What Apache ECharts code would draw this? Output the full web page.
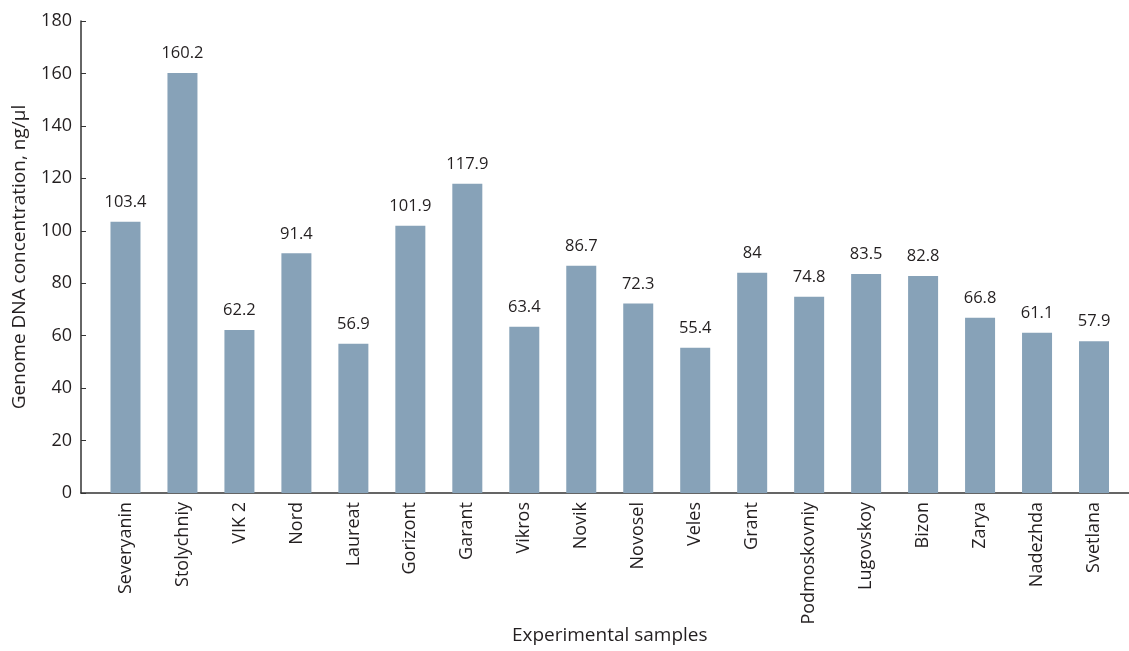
<!DOCTYPE html>
<html>
<head>
<meta charset="utf-8">
<script src="https://cdn.jsdelivr.net/npm/echarts@6/dist/echarts.min.js"></script>
<style>html,body{margin:0;padding:0;background:#fff;}#c{width:1129px;height:651px;}</style>
</head>
<body>
<div id="c"></div>
<script>
const categories = ["Severyanin","Stolychniy","VIK 2","Nord","Laureat","Gorizont","Garant","Vikros","Novik","Novosel","Veles","Grant","Podmoskovniy","Lugovskoy","Bizon","Zarya","Nadezhda","Svetlana"];
const concentration = [103.4,160.2,62.2,91.4,56.9,101.9,117.9,63.4,86.7,72.3,55.4,84,74.8,83.5,82.8,66.8,61.1,57.9];
const yTicks = {min:0, max:180, interval:20};

const FONT = "Open Sans";
const TXT = "#231f20";
const chart = echarts.init(document.getElementById('c'));
chart.setOption({
  animation:false,
  textStyle:{fontFamily:FONT},
  grid:[
    {left:97, right:6.5, top:21, bottom:158, containLabel:false, outerBoundsMode:'none'},
    {left:81, right:0, top:21, bottom:158, containLabel:false, outerBoundsMode:'none'}
  ],
  xAxis:[
    {type:'category', gridIndex:0, data:categories,
     axisLine:{show:false}, axisTick:{show:false},
     axisLabel:{rotate:90, margin:9, fontSize:18, color:TXT, fontFamily:FONT, interval:0},
     name:'Experimental samples', nameLocation:'middle', nameGap:133, nameMoveOverlap:false,
     nameTextStyle:{fontSize:19, color:TXT, fontFamily:FONT}},
    {type:'value', gridIndex:1, min:0, max:1,
     axisLine:{show:true, lineStyle:{color:'#333', width:1.5}},
     axisTick:{show:false}, axisLabel:{show:false}, splitLine:{show:false}}
  ],
  yAxis:[
    {type:'value', gridIndex:0, min:yTicks.min, max:yTicks.max, interval:yTicks.interval, offset:16,
     axisLine:{show:true, lineStyle:{color:'#333', width:1.5}},
     axisTick:{show:true, inside:true, length:5, lineStyle:{color:'#333'}},
     splitLine:{show:false},
     axisLabel:{fontSize:18, color:TXT, fontFamily:FONT, margin:9},
     name:'Genome DNA concentration, ng/µl', nameLocation:'middle', nameGap:52, nameMoveOverlap:false,
     nameTextStyle:{fontSize:19, color:TXT, fontFamily:FONT}},
    {type:'value', gridIndex:1, show:false, min:0, max:1}
  ],
  series:[{
    type:'bar', xAxisIndex:0, yAxisIndex:0, data:concentration, barWidth:30,
    itemStyle:{color:'#87a2b8'},
    label:{show:true, position:'top', distance:11, fontSize:16.5, color:TXT, fontFamily:FONT}
  }]
});
</script>
</body>
</html>
